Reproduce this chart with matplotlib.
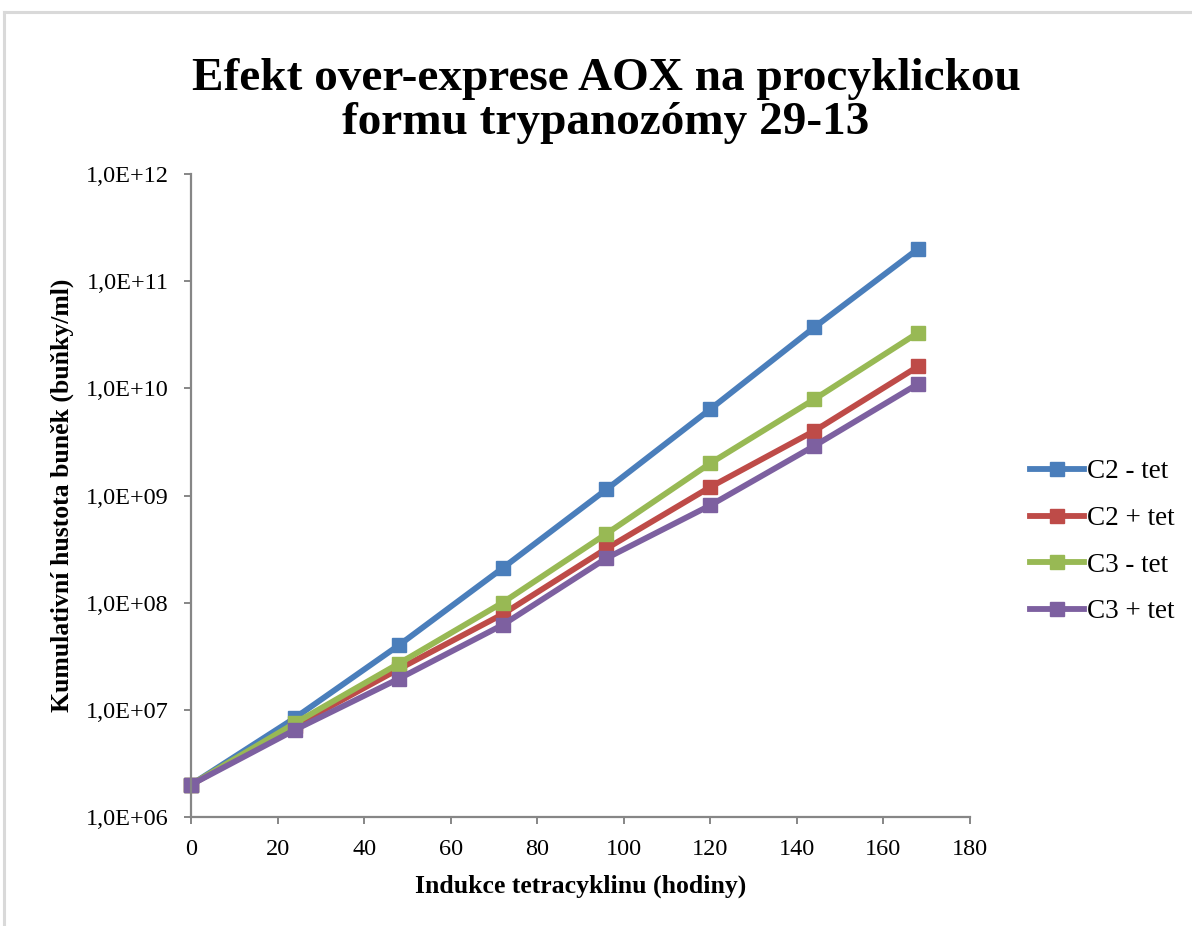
import matplotlib
matplotlib.use("Agg")
import matplotlib.pyplot as plt
from matplotlib.ticker import FuncFormatter, FixedLocator, NullLocator
from matplotlib.lines import Line2D
import numpy as np

plt.rcParams['font.family'] = ['Liberation Serif', 'DejaVu Serif']

hours = [0, 24, 48, 72, 96, 120, 144, 168]
series_names = ["C2 - tet", "C2 + tet", "C3 - tet", "C3 + tet"]
c2_minus = [2.0e6, 8.4e6, 4.0e7, 2.1e8, 1.14e9, 6.4e9, 3.7e10, 2.0e11]
c2_plus = [2.0e6, 7.1e6, 2.4e7, 7.8e7, 3.2e8, 1.2e9, 4.0e9, 1.6e10]
c3_minus = [2.0e6, 7.5e6, 2.7e7, 1.0e8, 4.4e8, 2.0e9, 7.9e9, 3.3e10]
c3_plus = [2.0e6, 6.5e6, 1.95e7, 6.2e7, 2.6e8, 8.1e8, 2.9e9, 1.1e10]
x_ticks = [0, 20, 40, 60, 80, 100, 120, 140, 160, 180]
y_ticks = [1e6, 1e7, 1e8, 1e9, 1e10, 1e11, 1e12]

colors = ["#4A7EBB", "#BE4B48", "#98B954", "#7D60A0"]
W, H = 1192, 926
fig = plt.figure(figsize=(W / 100, H / 100), dpi=100)
ax = fig.add_axes([191 / W, 1 - 817 / H, (970 - 191) / W, (817 - 174) / H])

data = [c2_minus, c2_plus, c3_minus, c3_plus]
for name, vals, c in zip(series_names, data, colors):
    ax.plot(hours, vals, color=c, lw=4.2, marker='s', ms=10, mec=c, mfc=c,
            label=name, solid_joinstyle='round', clip_on=False)

ax.set_yscale('log')
ax.set_xlim(0, 180)
ax.set_ylim(1e6, 1e12)
ax.xaxis.set_major_locator(FixedLocator(x_ticks))
ax.yaxis.set_major_locator(FixedLocator(y_ticks))
ax.yaxis.set_minor_locator(NullLocator())

def fmt(v, pos):
    e = int(round(np.log10(v)))
    return "1,0E+%02d" % e
ax.yaxis.set_major_formatter(FuncFormatter(fmt))

for s in ['top', 'right']:
    ax.spines[s].set_visible(False)
for s in ['left', 'bottom']:
    ax.spines[s].set_color('#868686')
    ax.spines[s].set_linewidth(1.6)
ax.tick_params(axis='both', direction='out', length=5, width=1.4, color='#868686',
               labelsize=17.5, labelcolor='black')
ax.tick_params(axis='x', pad=11)
ax.tick_params(axis='y', pad=11)

ax.set_xlabel("Indukce tetracyklinu (hodiny)", fontsize=18.5, fontweight='bold', va='center')
ax.set_ylabel("Kumulativní hustota buněk (buňky/ml)", fontsize=18.5, fontweight='bold', va='center')
ax.xaxis.set_label_coords(0.5, (817 - 886) / 643)
ax.yaxis.set_label_coords((62 - 191) / 779, 0.5)

fig.text(606 / W, 1 - 101 / H, "Efekt over-exprese AOX na procyklickou\nformu trypanozómy 29-13",
         ha='center', va='center', fontsize=34, fontweight='bold', linespacing=1.07)

leg = fig.legend(loc='center left', bbox_to_anchor=(1030 / W, 1 - 542 / H), frameon=False,
                 fontsize=19.5, handlelength=2.0, handletextpad=0.12, labelspacing=0.8,
                 borderpad=0, borderaxespad=0)

# chart border (Excel-style)
fig.add_artist(Line2D([4 / W, 1], [1 - 12 / H, 1 - 12 / H], color='#D9D9D9', lw=2.2,
                      transform=fig.transFigure))
fig.add_artist(Line2D([4 / W, 4 / W], [0, 1 - 12 / H], color='#D9D9D9', lw=2.2,
                      transform=fig.transFigure))

fig.savefig("out.png", dpi=100, facecolor='white')
